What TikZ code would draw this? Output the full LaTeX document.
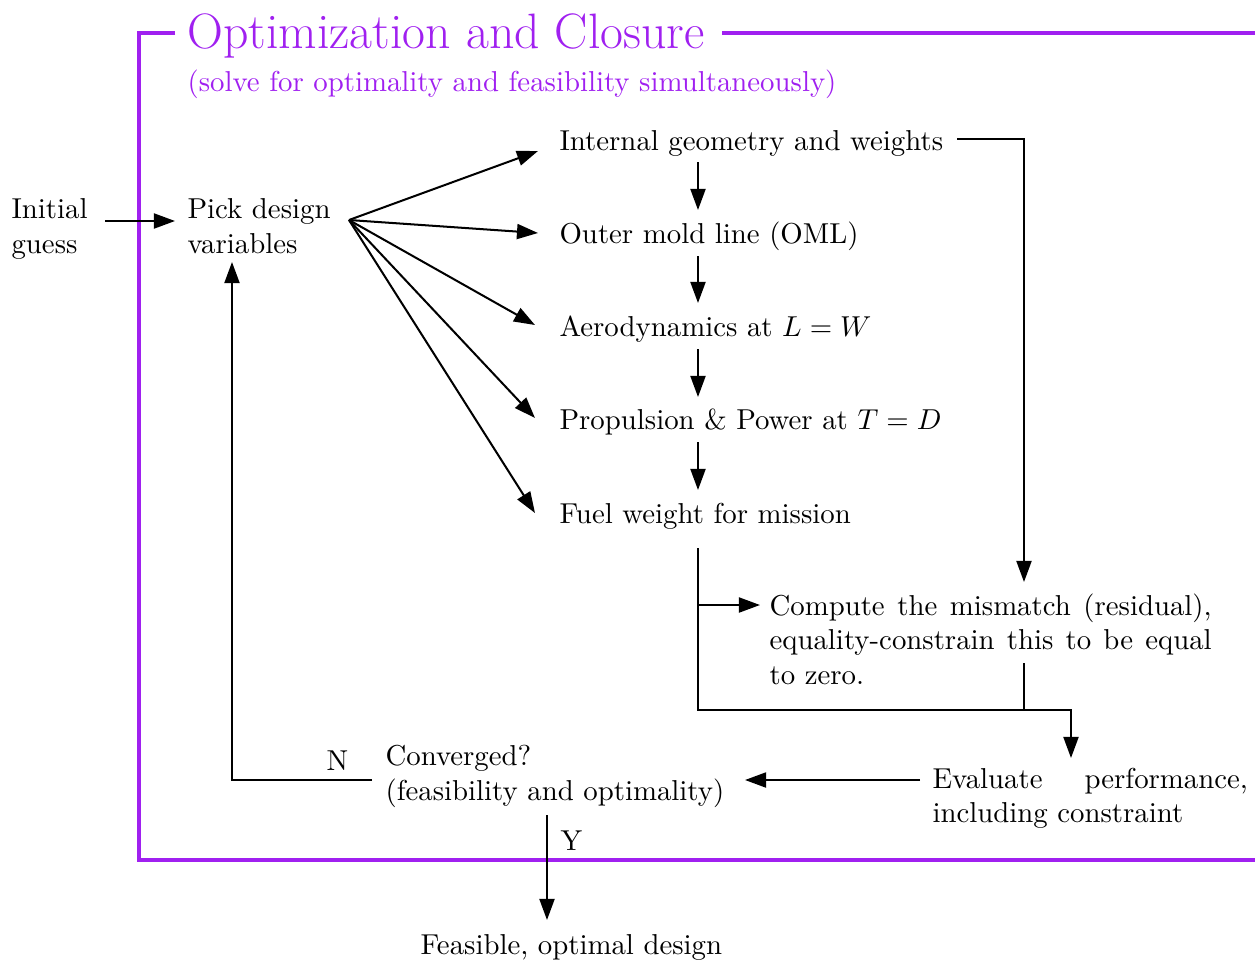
\documentclass[tikz,border=0pt]{standalone}
\usetikzlibrary{arrows.meta,calc}
\definecolor{framecol}{HTML}{A020F0}
\begin{document}
\begin{tikzpicture}[x=0.3472pt,y=-0.3472pt,
  txt/.style={inner sep=0pt, anchor=base west, align=left},
  conn/.style={line width=0.7pt, -{Triangle[length=7.3pt,width=5.2pt]}},
  plain/.style={line width=0.7pt},
  framebox/.style={line width=1.1pt, draw=framecol}]
\useasboundingbox (0,0) rectangle (1255,962);

% titles of the enclosing loop
\node[txt, text=framecol, font=\LARGE] (title) at (187,48) {Optimization and Closure};
\node[txt, text=framecol] (sub) at (187,91) {(solve for optimality and feasibility simultaneously)};

% enclosing frame (open to the right)
\coordinate (ftitlel) at (175,33);
\coordinate (ftitler) at (722,33);
\coordinate (ftl) at (139,33);
\coordinate (fbl) at (139,860);
\coordinate (ftr) at (1260,33);
\coordinate (fbr) at (1260,860);
\draw[framebox] (ftitlel) -- (ftl) -- (fbl) -- (fbr);
\draw[framebox] (ftitler) -- (ftr);

% process steps (multi-line nodes sit on the baseline of their last line)
\node[txt] (init) at (11,253) {Initial\\guess};
\node[txt] (pick) at (187,253) {Pick design\\variables};
\node[txt] (geo)  at (559,150) {Internal geometry and weights};
\node[txt] (oml)  at (559,243) {Outer mold line (OML)};
\node[txt] (aero) at (559,336) {Aerodynamics at $L = W$};
\node[txt] (prop) at (559,429) {Propulsion \& Power at $T = D$};
\node[txt] (fuel) at (559,523) {Fuel weight for mission};
\node[txt, text width=153.5pt, align=justify] (mis) at (769,615)
  {Compute the mismatch (residual), equality-constrain this to be equal to zero.};
\node[txt, text width=109.5pt, align=justify] (eval) at (932,788)
  {Evaluate performance, including constraint};
\node[txt] (conv)  at (385,800) {Converged?\\(feasibility and optimality)};
\node[txt] (final) at (420,954) {Feasible, optimal design};
\node[txt] (nlab)  at (326,770) {N};
\node[txt] (ylab)  at (560,850) {Y};

% connector end points
\coordinate (initout) at (105,221);
\coordinate (pickin)  at (175,221);
\coordinate (fan)     at (349,220);
\coordinate (geoin)   at (538,151);
\coordinate (omlin)   at (538,233);
\coordinate (aeroin)  at (535,325);
\coordinate (propin)  at (535,418);
\coordinate (fuelin)  at (535,513);

% initial guess and fan-out of design variables
\draw[conn] (initout) -- (pickin);
\foreach \t in {geoin,omlin,aeroin,propin,fuelin}
  \draw[conn] (fan) -- (\t);

% sequential chain
\draw[conn] (698,162) -- (698,210);
\draw[conn] (698,256) -- (698,303);
\draw[conn] (698,349) -- (698,397);
\draw[conn] (698,442) -- (698,490);

% weights into the residual
\coordinate (geoout) at (957,139);
\coordinate (misin)  at (1024,582);
\draw[conn] (geoout) -| (misin);

% fuel weight into the residual and the evaluation
\coordinate (fuelout) at (698,548);
\coordinate (join)    at (698,710);
\coordinate (evalin)  at (1071,758);
\draw[conn] (fuelout) -- (join) -| (evalin);
\draw[conn] (698,605) -- (760,605);
\draw[plain] (1024,663) -- (1024,710);

% evaluation to convergence check
\draw[conn] (920,780) -- (745,780);

% loop back when not converged
\coordinate (convout) at (372,780);
\coordinate (pickbot) at (232,262);
\draw[conn] (convout) -| (pickbot);

% exit when converged
\draw[conn] (547,815) -- (547,920);
\end{tikzpicture}
\end{document}
